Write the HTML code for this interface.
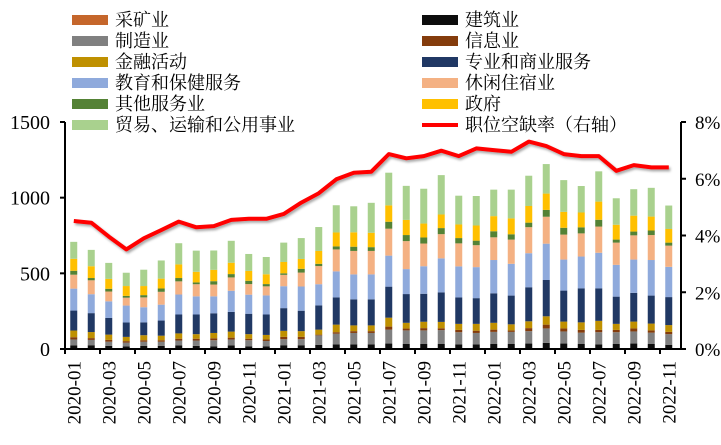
<!DOCTYPE html>
<html><head><meta charset="utf-8"><style>
body{margin:0;background:#fff;}
svg{display:block;font-family:"Liberation Serif","Noto Serif CJK SC",serif;}
</style></head><body>
<svg id="chart" width="721" height="445" viewBox="0 0 721 445" xmlns="http://www.w3.org/2000/svg">
<defs><filter id="sh" x="-5%" y="-20%" width="110%" height="140%"><feDropShadow dx="1.5" dy="2" stdDeviation="1.2" flood-color="#000" flood-opacity="0.35"/></filter></defs>
<g id="legend"></g>
<g id="bars"></g>
<g id="line"></g>
<g id="axes"></g>
</svg>
<script>
const months = [];
for (let y = 2020; y <= 2022; y++) for (let m = 1; m <= 12; m++) { if (y === 2022 && m > 11) break; months.push(y + '-' + String(m).padStart(2, '0')); }
const mining = [3,3,2,2,2,2,3,3,3,3,3,3,3,3,3,3,3,3,3,3,3,3,3,3,3,3,3,3,3,3,3,3,3,3,3];
const construction = [20,22,18,15,18,18,20,18,15,20,15,15,22,22,25,28,28,28,33,30,30,30,28,28,30,30,33,38,33,30,28,30,33,30,25];
const manufacturing = [40,35,28,25,28,28,33,35,40,40,40,35,40,40,62,70,75,75,92,90,90,92,80,75,80,80,82,95,80,75,80,78,80,75,70];
const information = [15,12,12,10,10,10,12,12,13,12,10,10,15,15,5,10,12,12,20,12,15,12,15,15,15,10,20,25,20,18,15,15,20,15,15];
const finance = [44,40,35,28,33,30,35,30,35,40,30,30,40,38,33,50,38,38,59,38,42,42,40,45,45,40,45,55,45,50,60,40,45,45,45];
const professional = [132,125,110,95,85,100,125,130,130,130,135,135,150,135,160,180,172,172,205,190,185,195,175,170,195,190,225,240,205,225,215,180,190,185,185];
const education = [145,125,110,112,100,105,132,120,112,140,126,126,145,160,140,172,165,165,205,165,182,225,205,205,220,210,225,240,205,210,235,210,220,235,200];
const leisure = [92,92,65,52,65,85,87,80,78,88,70,60,75,92,120,145,155,155,178,185,150,160,152,145,150,160,172,178,165,153,173,147,160,165,140];
const otherServices = [26,15,18,12,15,22,22,12,22,22,22,15,10,25,15,20,28,25,46,40,40,40,35,30,40,35,30,45,45,40,45,20,25,30,20];
const government = [79,78,65,65,60,65,90,70,75,75,65,65,75,65,85,92,95,95,108,100,92,90,90,100,100,105,110,108,105,98,120,98,105,92,90];
const trade = [112,108,106,88,108,120,140,140,128,145,112,114,128,138,158,180,172,198,216,225,230,260,190,195,175,190,200,195,210,175,200,175,175,190,155];
const vacancyRate = [4.51,4.45,3.96,3.51,3.90,4.19,4.49,4.29,4.33,4.55,4.59,4.59,4.76,5.16,5.49,5.98,6.21,6.25,6.87,6.72,6.80,6.99,6.80,7.07,7.01,6.95,7.31,7.15,6.87,6.80,6.80,6.28,6.48,6.40,6.40];
const leftTicks = [0,500,1000,1500];
const rightTicks = [0,2,4,6,8];

const NS = 'http://www.w3.org/2000/svg';
function mk(tag, attrs, parent) { const e = document.createElementNS(NS, tag); for (const k in attrs) e.setAttribute(k, attrs[k]); parent.appendChild(e); return e; }
const X0 = 65, X1 = 677.5, Y0 = 349, YT = 122;
const step = (X1 - X0) / months.length;
const xc = i => X0 + (i + 0.5) * step;
const yL = v => Y0 - v / 1500 * (Y0 - YT);
const yR = v => Y0 - v / 8 * (Y0 - YT);

const series = [
  {name:'mining', label:'采矿业', data:mining, color:'#c5662b'},
  {name:'construction', label:'建筑业', data:construction, color:'#0d0d0d'},
  {name:'manufacturing', label:'制造业', data:manufacturing, color:'#808080'},
  {name:'information', label:'信息业', data:information, color:'#843c0c'},
  {name:'finance', label:'金融活动', data:finance, color:'#bf9000'},
  {name:'professional', label:'专业和商业服务', data:professional, color:'#203864'},
  {name:'education', label:'教育和保健服务', data:education, color:'#8faadc'},
  {name:'leisure', label:'休闲住宿业', data:leisure, color:'#f4b183'},
  {name:'other-services', label:'其他服务业', data:otherServices, color:'#548235'},
  {name:'government', label:'政府', data:government, color:'#ffc000'},
  {name:'trade', label:'贸易、运输和公用事业', data:trade, color:'#a9d18e'}
];

const bars = document.getElementById('bars');
for (let i = 0; i < months.length; i++) {
  let cum = 0;
  for (const s of series) {
    const v = s.data[i];
    const r = mk('rect', {x: xc(i) - 3.5, y: yL(cum + v), width: 7, height: yL(cum) - yL(cum + v), fill: s.color}, bars);
    
    
    cum += v;
  }
}

const lineG = document.getElementById('line');
const pts = vacancyRate.map((v, i) => xc(i).toFixed(1) + ',' + yR(v).toFixed(1)).join(' ');
const pl = mk('polyline', {points: pts, fill: 'none', stroke: '#ff0000', 'stroke-width': 4, 'stroke-linejoin': 'round', filter: 'url(#sh)'}, lineG);



const ax = document.getElementById('axes');
mk('line', {x1: X0, y1: YT, x2: X0, y2: Y0 + 1, stroke: '#000', 'stroke-width': 2}, ax);
mk('line', {x1: 681, y1: YT, x2: 681, y2: Y0 + 1, stroke: '#000', 'stroke-width': 2}, ax);
mk('line', {x1: X0, y1: Y0, x2: 681, y2: Y0, stroke: '#000', 'stroke-width': 2}, ax);
for (const t of leftTicks) {
  mk('line', {x1: X0 - 5, y1: yL(t), x2: X0, y2: yL(t), stroke: '#000', 'stroke-width': 2}, ax);
  const tx = mk('text', {x: 50, y: yL(t) + 7, 'text-anchor': 'end', 'font-size': 20}, ax);
  tx.textContent = t;
  
  
}
for (const t of rightTicks) {
  mk('line', {x1: 681, y1: yR(t), x2: 686, y2: yR(t), stroke: '#000', 'stroke-width': 2}, ax);
  const tx = mk('text', {x: 695, y: yR(t) + 7, 'font-size': 19}, ax);
  tx.textContent = t + '%';
  
  
}
for (let i = 0; i < months.length; i += 2) {
  const x = X0 + i * step;
  mk('line', {x1: x, y1: Y0, x2: x, y2: Y0 + 5, stroke: '#000', 'stroke-width': 2}, ax);
  const tx = mk('text', {x: 0, y: 0, 'text-anchor': 'end', 'font-size': 19, transform: 'translate(' + (xc(i) + 6.5) + ',' + (Y0 + 12) + ') rotate(-90)'}, ax);
  tx.textContent = months[i];
  
  
}

const lg = document.getElementById('legend');
const leftCol = ['mining','manufacturing','finance','education','other-services','trade'];
const rightCol = ['construction','information','professional','leisure','government'];
function legendItem(x, row, s) {
  const y = 20 + row * 21;
  const g = mk('g', {}, lg);
  
  
  mk('rect', {x: x, y: y - 5, width: 36, height: 10, fill: s.color}, g);
  const t = mk('text', {x: x + 43, y: y + 6, 'font-size': 18}, g);
  t.textContent = s.label;
}
leftCol.forEach((n, r) => legendItem(72, r, series.find(s => s.name === n)));
rightCol.forEach((n, r) => legendItem(422, r, series.find(s => s.name === n)));
const lgl = mk('g', {}, lg);


mk('line', {x1: 422, y1: 125, x2: 458, y2: 125, stroke: '#ff0000', 'stroke-width': 4}, lgl);
const lt = mk('text', {x: 465, y: 131, 'font-size': 18}, lgl);
lt.textContent = '职位空缺率（右轴）';
</script>
</body></html>
